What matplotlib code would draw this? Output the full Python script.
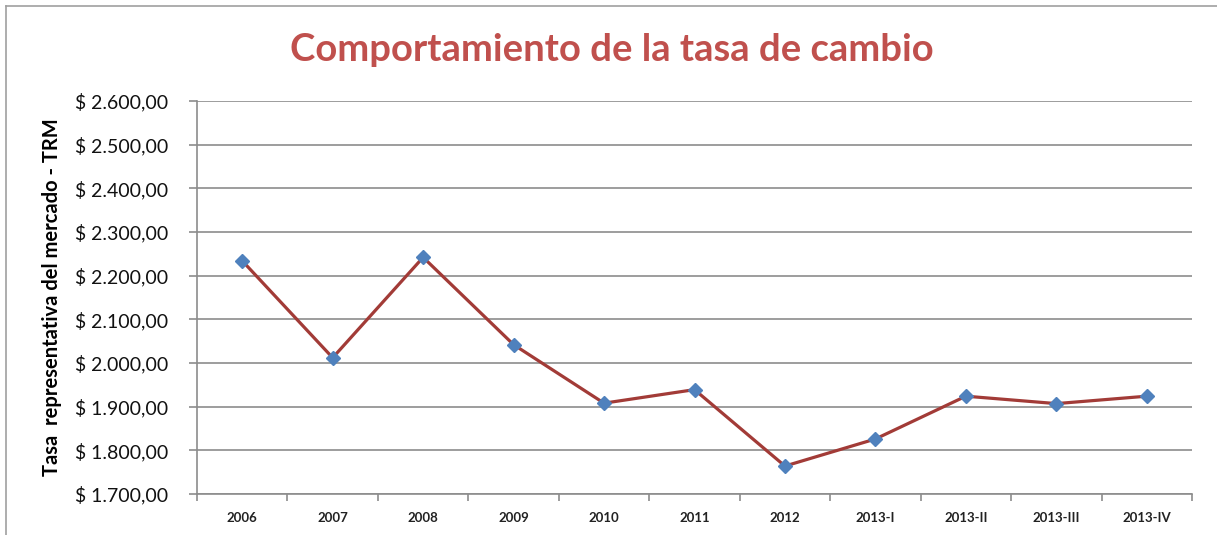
import matplotlib
matplotlib.use("Agg")
import matplotlib.pyplot as plt
from matplotlib.lines import Line2D
from matplotlib.ticker import FuncFormatter

periods = ["2006", "2007", "2008", "2009", "2010", "2011", "2012",
           "2013-I", "2013-II", "2013-III", "2013-IV"]
trm = [2234, 2012, 2242, 2042, 1908, 1939, 1764, 1826, 1924, 1907, 1924]
y_ticks = [1700, 1800, 1900, 2000, 2100, 2200, 2300, 2400, 2500, 2600]

title_color = "#C0504D"
line_color = "#A23B37"
marker_color = "#4F81BD"
grid_color = "#8C8C8C"

plt.rcParams["font.family"] = ["Lato", "DejaVu Sans"]


def peso(v, _pos):
    s = f"{v:,.2f}"
    s = s.replace(",", "X").replace(".", ",").replace("X", ".")
    return f"$ {s}"


fig = plt.figure(figsize=(12.17, 5.35), dpi=100)
ax = fig.add_axes([197 / 1217, 1 - 494 / 535, 995 / 1217, 393 / 535])

x = list(range(len(periods)))
ax.plot(x, trm, color=line_color, lw=2.3, zorder=3)
ax.plot(x, trm, ls="none", marker="D", ms=7.5, color=marker_color,
        markeredgecolor=marker_color, zorder=4)

ax.set_xlim(-0.5, len(periods) - 0.5)
ax.set_ylim(y_ticks[0], y_ticks[-1])
ax.set_yticks(y_ticks)
ax.yaxis.set_major_formatter(FuncFormatter(peso))
ax.grid(axis="y", color=grid_color, lw=1.2)
ax.set_axisbelow(True)

ax.set_xticks(x)
ax.set_xticklabels(periods, fontsize=9.5, fontweight="bold", color="#222222")
ax.tick_params(axis="x", length=0, pad=13)
ax.set_xticks([i - 0.5 for i in range(len(periods) + 1)], minor=True)
ax.tick_params(axis="x", which="minor", length=5, width=1.2, color=grid_color)
ax.tick_params(axis="y", length=6, width=1.2, color=grid_color, pad=15,
               labelsize=14, labelcolor="#111111")

for side in ["top", "right"]:
    ax.spines[side].set_visible(False)
for side in ["left", "bottom"]:
    ax.spines[side].set_color(grid_color)
    ax.spines[side].set_linewidth(1.2)

ax.set_ylabel("Tasa  representativa del mercado - TRM", fontsize=14.5,
              fontweight="bold", labelpad=9)

fig.text(0.503, 0.906, "Comportamiento de la tasa de cambio", ha="center",
         va="center", fontsize=27.5, fontweight="bold", color=title_color)

# chart frame (left and top edges visible in the reference)
fig.add_artist(Line2D([6 / 1217, 6 / 1217], [0, 1 - 6 / 535],
                      color="#A0A0A0", lw=1.2))
fig.add_artist(Line2D([6 / 1217, 1], [1 - 6 / 535, 1 - 6 / 535],
                      color="#A0A0A0", lw=1.2))

fig.savefig("out.png", dpi=100)
